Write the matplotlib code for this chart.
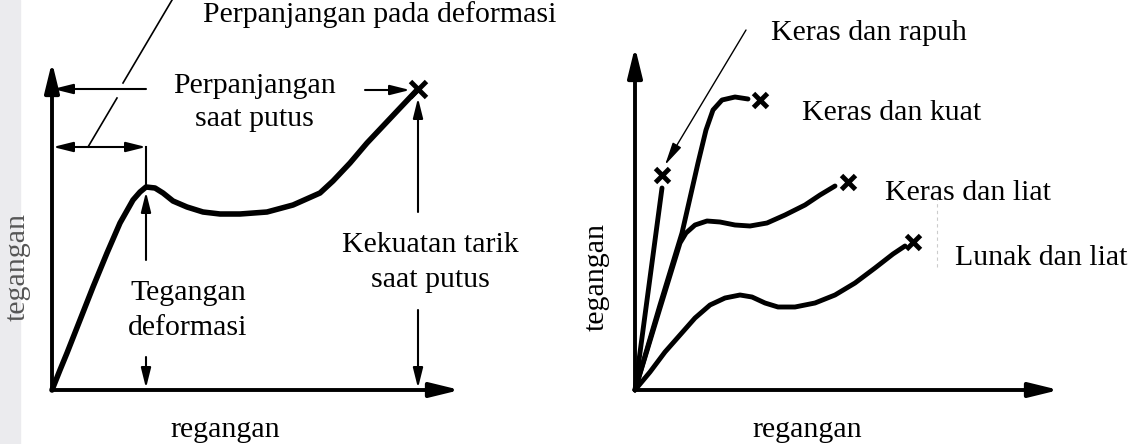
import matplotlib
matplotlib.use('Agg')
import matplotlib.pyplot as plt
from matplotlib.patches import Rectangle

plt.rcParams['font.family'] = ['Liberation Serif', 'DejaVu Serif']
FS = 21.5

# left panel: a single stress-strain curve (arbitrary units)
curve_strain = [0, 0.8, 1.5, 2.8, 4.1, 5.5, 6.8, 8.1, 8.8, 9.4, 10.3, 11.1, 12.1,
                13.5, 15.1, 16.8, 18.8, 21.5, 24.1, 26.8, 28.1, 29.8, 31.5, 34.8, 36.6]
curve_stress = [0, 2.0, 3.7, 7.0, 10.3, 13.7, 16.7, 19.0, 19.8, 20.3, 20.2, 19.7, 18.9,
                18.3, 17.8, 17.6, 17.6, 17.8, 18.5, 19.7, 20.9, 22.7, 24.7, 28.2, 30.1]

# right panel: four material types
kinds = ['Keras dan rapuh', 'Keras dan kuat', 'Keras dan liat', 'Lunak dan liat']
rapuh_strain = [0, 2.7]
rapuh_stress = [0, 20.2]
kuat_strain = [0, 2.5, 4.7, 6.3, 7.1, 7.8, 8.7, 10.0, 11.3]
kuat_stress = [0, 8.5, 15.7, 22.7, 26.0, 28.0, 29.0, 29.3, 29.1]
liat_strain = [0, 2.5, 4.5, 5.1, 6.0, 7.2, 8.5, 10.0, 11.5, 13.2, 15.0, 17.0, 18.5, 20.0]
liat_stress = [0, 8.2, 14.7, 15.7, 16.5, 16.9, 16.8, 16.5, 16.4, 16.7, 17.5, 18.5, 19.5, 20.4]
lunak_strain = [0, 1.5, 3.0, 4.5, 6.0, 7.5, 9.0, 10.5, 11.7, 13.0, 14.3, 16.0, 18.0,
                20.0, 22.0, 24.0, 25.8, 27.0]
lunak_stress = [0, 1.8, 3.8, 5.5, 7.2, 8.5, 9.2, 9.5, 9.3, 8.7, 8.3, 8.3, 8.7,
                9.5, 10.7, 12.2, 13.6, 14.4]
break_strain = [2.7, 12.5, 21.3, 27.8]
break_stress = [21.5, 29.0, 20.8, 14.8]


def arrow(ax, x0, y0, x1, y1, lw=1.5, style='-|>', hl=0.6, hw=0.15):
    ax.annotate('', xy=(x1, y1), xytext=(x0, y0),
                arrowprops=dict(arrowstyle=f'{style},head_length={hl},head_width={hw}',
                                lw=lw, color='black', shrinkA=0, shrinkB=0,
                                mutation_scale=20))


fig = plt.figure(figsize=(11.34, 4.44), dpi=100)
fig.add_artist(Rectangle((0, 0), 20 / 1134, 1, transform=fig.transFigure,
                         color='#ebebee', zorder=0))

axL = fig.add_axes([0, 0, 0.5, 1])
axR = fig.add_axes([0.5, 0, 0.5, 1])
axL.set_xlim(-5.2, 51.5)
axR.set_xlim(-6.8, 49.9)
for ax in (axL, axR):
    ax.set_ylim(-5.4, 39.0)
    ax.axis('off')

# ---- left panel
arrow(axL, 0, 0, 0, 32.8, lw=2.8, hl=0.9, hw=0.22)
arrow(axL, 0, 0, 40.8, 0, lw=2.8, hl=0.9, hw=0.22)
axL.plot(curve_strain, curve_stress, color='black', lw=4, solid_capstyle='round',
         solid_joinstyle='round')
bx, by = curve_strain[-1], curve_stress[-1]
axL.plot([bx], [by], marker='x', ms=11, mew=3.5, color='black')

i_peak = curve_stress.index(max(curve_stress[:12]))
yx, yy = curve_strain[i_peak], curve_stress[i_peak]

# elongation at break
arrow(axL, yx, 30.1, 0.1, 30.1)
arrow(axL, 31.3, 30.0, bx - 0.8, 30.0)
axL.text(20.2, 29.7, 'Perpanjangan', fontsize=FS, ha='center', va='baseline')
axL.text(20.2, 26.4, 'saat putus', fontsize=FS, ha='center', va='baseline')

# elongation at yield
arrow(axL, 0.1, 24.3, yx, 24.3, style='<|-|>')
axL.plot([yx, yx], [24.3, yy], color='black', lw=1.5)
axL.plot([3.6, 6.5], [24.3, 29.2], color='black', lw=1.2)
axL.plot([7.1, 12.3], [30.7, 39.5], color='black', lw=1.2)
axL.text(15.1, 36.8, 'Perpanjangan pada deformasi', fontsize=FS, ha='left', va='baseline')

# yield stress
arrow(axL, yx, 13.0, yx, yy - 0.5)
arrow(axL, yx, 3.3, yx, 0.2)
axL.text(13.6, 9.0, 'Tegangan', fontsize=FS, ha='center', va='baseline')
axL.text(13.6, 5.5, 'deformasi', fontsize=FS, ha='center', va='baseline')

# tensile strength at break
arrow(axL, bx, 17.8, bx, by - 0.9)
arrow(axL, bx, 8.0, bx, 0.2)
axL.text(37.8, 13.8, 'Kekuatan tarik', fontsize=FS, ha='center', va='baseline')
axL.text(37.8, 10.3, 'saat putus', fontsize=FS, ha='center', va='baseline')

axL.text(17.3, -4.7, 'regangan', fontsize=FS, ha='center', va='baseline')
axL.text(-3.4, 12.3, 'tegangan', fontsize=FS, ha='center', va='center', rotation=90,
         color='#555555')

# ---- right panel
arrow(axR, 0, 0, 0, 34.3, lw=2.8, hl=0.9, hw=0.22)
arrow(axR, 0, 0, 42.4, 0, lw=2.8, hl=0.9, hw=0.22)
for xs, ys in [(rapuh_strain, rapuh_stress), (kuat_strain, kuat_stress),
               (liat_strain, liat_stress), (lunak_strain, lunak_stress)]:
    axR.plot(xs, ys, color='black', lw=3.5, solid_capstyle='round',
             solid_joinstyle='round')
axR.plot(break_strain, break_stress, ls='none', marker='x', ms=10, mew=3.5, color='black')

arrow(axR, 11.1, 36.0, 3.0, 22.5, lw=1.0, hl=0.7, hw=0.15)
label_xy = [(13.6, 35.0), (16.7, 27.0), (25.0, 19.0), (32.0, 12.5)]
for name, (lx, ly) in zip(kinds, label_xy):
    axR.text(lx, ly, name, fontsize=FS, ha='left', va='baseline')
axR.plot([30.2, 30.2], [12.3, 19.7], color='#cccccc', lw=0.8, ls=(0, (3, 3)))

axR.text(17.2, -4.7, 'regangan', fontsize=FS, ha='center', va='baseline')
axR.text(-3.8, 11.3, 'tegangan', fontsize=FS, ha='center', va='center', rotation=90)

fig.savefig('out.png', dpi=100)
